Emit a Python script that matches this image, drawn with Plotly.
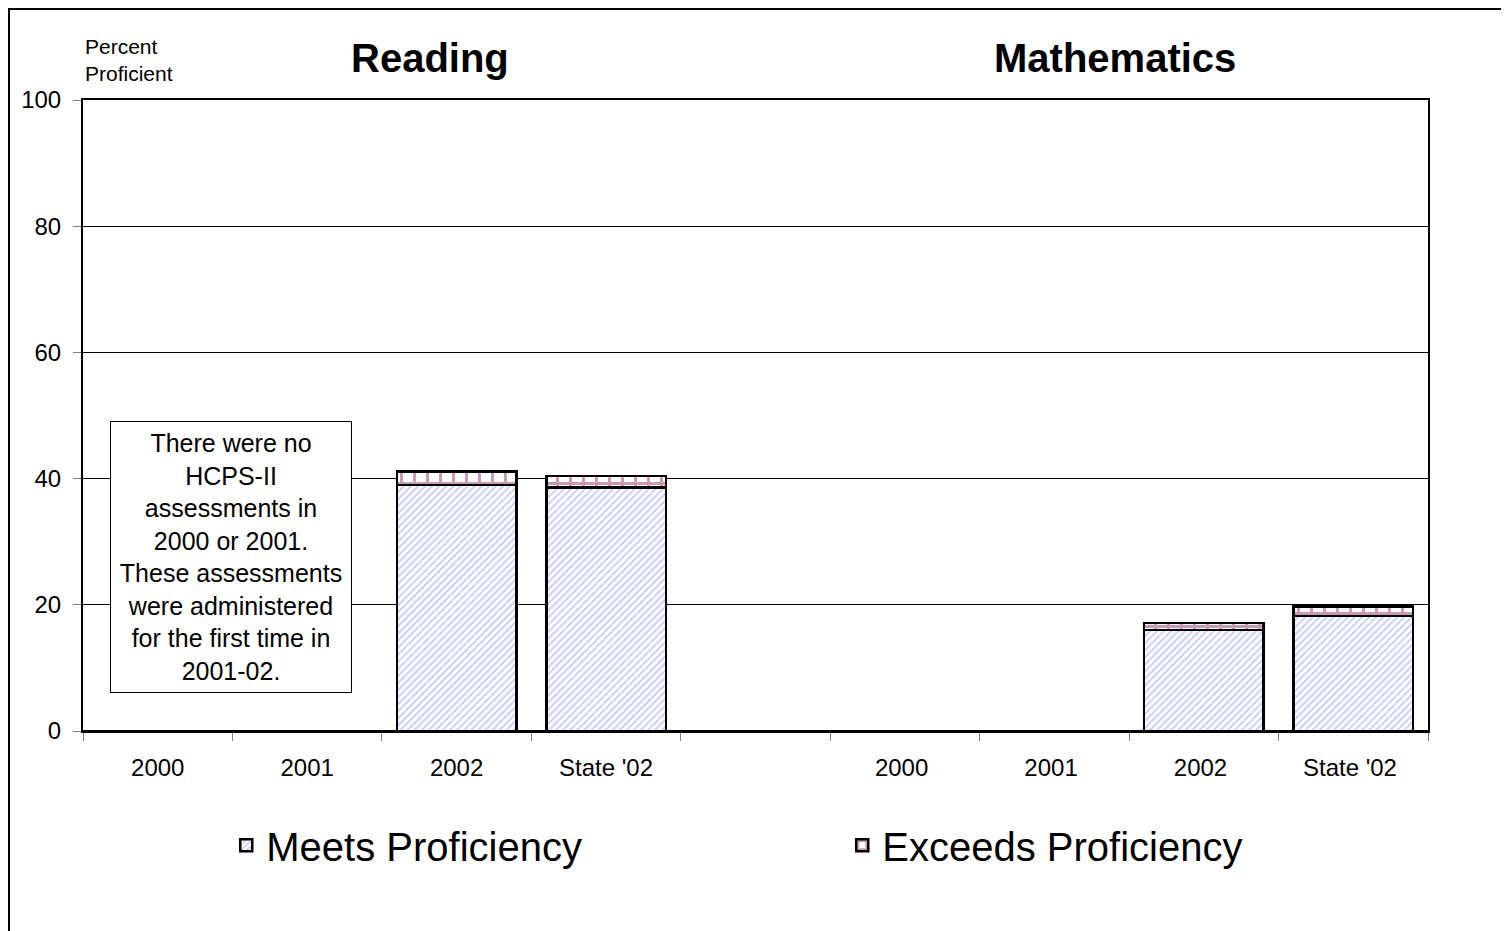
import plotly.graph_objects as go

categories = ["2000", "2001", "2002", "State '02", " ", "2000 ", "2001 ", "2002 ", "State '02 "]
meets = [None, None, 39.0, 38.6, None, None, None, 16.0, 18.2]
exceeds = [None, None, 2.1, 1.8, None, None, None, 1.1, 1.5]
subject_titles = ["Reading", "Mathematics"]
note_text = ("There were no<br>HCPS-II<br>assessments in<br>2000 or 2001.<br>"
             "These assessments<br>were administered<br>for the first time in<br>2001-02.")

FONT = "Arial, 'Liberation Sans', sans-serif"

# page body has an 8px margin; figure pixel geometry is compensated for it
W, H = 1501, 923
L, T = 75, 92
PW, PH = 1345, 631

fig = go.Figure()
fig.add_trace(go.Bar(
    x=categories, y=meets, name="Meets Proficiency",
    marker=dict(color="white", line=dict(color="black", width=2.5),
                pattern=dict(shape="/", fgcolor="#9999ff", bgcolor="white", size=5, solidity=0.4)),
))
fig.add_trace(go.Bar(
    x=categories, y=exceeds, name="Exceeds Proficiency",
    marker=dict(color="white", line=dict(color="black", width=2.5),
                pattern=dict(shape="+", fgcolor="#993366", bgcolor="white", size=13, solidity=0.4)),
))

fig.update_layout(
    width=W, height=H,
    margin=dict(l=L, r=W - L - PW, t=T, b=H - T - PH),
    barmode="stack", bargap=0.2,
    plot_bgcolor="white", paper_bgcolor="white",
    font=dict(family=FONT, color="black", size=24),
    showlegend=True,
    legend=dict(orientation="h", x=0.1065, xanchor="left", y=-0.181, yanchor="middle",
                font=dict(size=40, family=FONT), entrywidth=571, entrywidthmode="pixels",
                bgcolor="rgba(0,0,0,0)", traceorder="normal"),
)
fig.update_xaxes(
    type="category", categoryorder="array", categoryarray=categories,
    tickson="boundaries", ticks="outside", ticklen=8, tickcolor="#808080", tickwidth=1,
    showline=True, linecolor="black", linewidth=2, mirror=True,
    showgrid=False, tickfont=dict(size=24, family=FONT), ticklabelstandoff=14,
)
fig.update_yaxes(
    range=[0, 100], tickvals=[0, 20, 40, 60, 80, 100],
    ticks="outside", ticklen=8, tickcolor="#808080",
    showline=True, linecolor="black", linewidth=2, mirror=True,
    showgrid=True, gridcolor="black", gridwidth=1,
    zeroline=True, zerolinecolor="black", zerolinewidth=3,
    tickfont=dict(size=24, family=FONT), ticklabelstandoff=7,
)

# subject titles
fig.add_annotation(text="<b>%s</b>" % subject_titles[0], x=0.258, y=1.0666, xref="paper", yref="paper",
                   showarrow=False, font=dict(size=40, family=FONT), xanchor="center", yanchor="middle")
fig.add_annotation(text="<b>%s</b>" % subject_titles[1], x=0.767, y=1.0666, xref="paper", yref="paper",
                   showarrow=False, font=dict(size=40, family=FONT), xanchor="center", yanchor="middle")
# y axis title
fig.add_annotation(text="Percent<br>Proficient", x=0.0, y=1.063, xref="paper", yref="paper",
                   showarrow=False, align="left", xanchor="left", yanchor="middle",
                   font=dict(size=21, family=FONT))
# note box
fig.add_annotation(text=note_text, x=0.1097, y=0.2765, xref="paper", yref="paper",
                   showarrow=False, align="center", xanchor="center", yanchor="middle",
                   font=dict(size=25, family=FONT), bgcolor="white",
                   bordercolor="black", borderwidth=1, borderpad=2, width=236, height=266)

# outer frame: drawn at the figure edge (left/top), right edge near screen px 1504
fx0, fx1, fy_top, fy_bot = 1, 1496, 1, 935
fig.add_shape(type="rect", xref="paper", yref="paper",
              x0=(fx0 - L) / PW, x1=(fx1 - L) / PW,
              y0=(T + PH - fy_bot) / PH, y1=(T + PH - fy_top) / PH,
              line=dict(color="black", width=2), fillcolor="rgba(0,0,0,0)", layer="below")

fig.write_html("out.html")
